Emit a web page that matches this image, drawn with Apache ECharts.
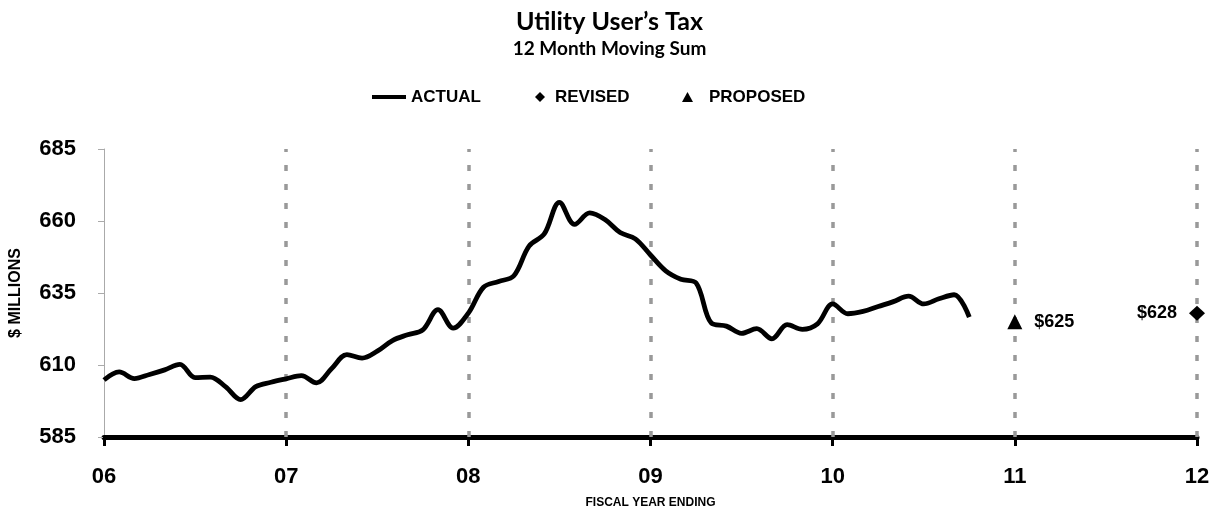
<!DOCTYPE html>
<html lang="en">
<head>
    <meta charset="UTF-8">
    <title>Utility User's Tax</title>
    <script src="https://cdn.jsdelivr.net/npm/echarts@6.0.0/dist/echarts.min.js"></script>
    <style>
        body {
            margin: 0;
            background: #ffffff;
        }
        #chart {
            width: 1219px;
            height: 514px;
        }
    </style>
</head>
<body>
    <div id="chart"></div>

    <script>
        // fiscal years on the x axis (06 .. 12)
        var yearTicks = [6, 7, 8, 9, 10, 11, 12];
        var yearLabels = ['06', '07', '08', '09', '10', '11', '12'];
        var gridYears = [7, 8, 9, 10, 11, 12];

        // 12 month moving sum, one value per month starting at FY06
        var actual = [
            604.8, 607.6, 605.3, 606.7, 608.3, 610.2, 605.6, 605.8, 602.5, 598.0, 602.5, 604.0,
            605.2, 606.3, 603.8, 608.8, 613.6, 612.4, 614.8, 618.5, 620.5, 622.2, 629.2, 622.8,
            628.0, 637.0, 639.0, 641.0, 651.3, 655.5, 666.5, 658.8, 662.8, 660.5, 656.0, 653.8,
            648.2, 642.7, 639.8, 638.5, 624.6, 623.5, 621.0, 622.6, 619.1, 624.0, 622.4, 624.3,
            631.2, 627.8, 628.6, 630.3, 632.0, 633.9, 631.2, 633.0, 634.4, 626.6
        ];
        var startYear = 6;

        var revised = [[12, 628]];
        var proposed = [[11, 625]];

        var actualData = actual.map(function (v, i) { return [startYear + i / 12, v]; });

        var chart = echarts.init(document.getElementById('chart'));

        var legendText = { fontFamily: 'Liberation Sans, Arial', fontWeight: 'bold', fontSize: 17, color: '#000', lineHeight: 20 };

        var option = {
            animation: false,
            title: [
                {
                    text: 'Utility User\u2019s Tax',
                    left: 'center',
                    top: 4,
                    textStyle: { fontFamily: 'Lato', fontWeight: 'bold', fontSize: 25, color: '#000' }
                },
                {
                    text: '12 Month Moving Sum',
                    left: 'center',
                    top: 34,
                    textStyle: { fontFamily: 'Lato', fontWeight: 'bold', fontSize: 19, color: '#000' }
                }
            ],
            legend: [
                {
                    data: ['ACTUAL'],
                    left: 372, top: 87, padding: 0,
                    icon: 'rect', itemWidth: 34, itemHeight: 4,
                    textStyle: legendText
                },
                {
                    data: ['REVISED'],
                    left: 535, top: 87, padding: 0,
                    icon: 'diamond', itemWidth: 10, itemHeight: 10,
                    textStyle: Object.assign({ padding: [0, 0, 0, 5] }, legendText)
                },
                {
                    data: ['PROPOSED'],
                    left: 682, top: 87, padding: 0,
                    icon: 'triangle', itemWidth: 11, itemHeight: 10,
                    textStyle: Object.assign({ padding: [0, 0, 0, 11] }, legendText)
                }
            ],
            grid: {
                left: 104,
                right: 22,
                top: 149,
                bottom: 74
            },
            xAxis: {
                type: 'value',
                min: yearTicks[0],
                max: yearTicks[yearTicks.length - 1],
                interval: 1,
                name: 'FISCAL YEAR ENDING',
                nameLocation: 'middle',
                nameGap: 60,
                nameTextStyle: { fontFamily: 'Liberation Sans, Arial', fontWeight: 'bold', fontSize: 12, color: '#000' },
                axisLine: { lineStyle: { color: '#000', width: 5 } },
                axisTick: { length: 9, lineStyle: { color: '#000', width: 3 } },
                axisLabel: {
                    margin: 29,
                    fontFamily: 'Liberation Sans, Arial',
                    fontWeight: 'bold',
                    fontSize: 22,
                    color: '#000',
                    formatter: function (v) { return yearLabels[yearTicks.indexOf(v)]; }
                },
                splitLine: { show: false }
            },
            yAxis: {
                type: 'value',
                min: 585,
                max: 685,
                interval: 25,
                name: '$ MILLIONS',
                nameLocation: 'middle',
                nameGap: 80,
                nameTextStyle: { fontFamily: 'Liberation Sans, Arial', fontWeight: 'bold', fontSize: 16, color: '#000' },
                axisLine: { show: true, lineStyle: { color: '#aaa', width: 1 } },
                axisTick: { show: true, length: 6, lineStyle: { color: '#aaa' } },
                axisLabel: {
                    margin: 28,
                    fontFamily: 'Liberation Sans, Arial',
                    fontWeight: 'bold',
                    fontSize: 22,
                    color: '#000'
                },
                splitLine: { show: false }
            },
            series: [
                {
                    name: 'grid',
                    type: 'line',
                    data: [],
                    zlevel: 0,
                    z: 1,
                    silent: true,
                    markLine: {
                        silent: true,
                        symbol: 'none',
                        label: { show: false },
                        lineStyle: { color: '#999', width: 3.5, type: [6, 13] },
                        data: gridYears.map(function (y) { return { xAxis: y }; })
                    }
                },
                {
                    name: 'ACTUAL',
                    type: 'line',
                    data: actualData,
                    smooth: 0.35,
                    showSymbol: false,
                    zlevel: 1,
                    z: 3,
                    itemStyle: { color: '#000' },
                    lineStyle: { color: '#000', width: 4.8 }
                },
                {
                    name: 'REVISED',
                    type: 'scatter',
                    data: revised,
                    symbol: 'diamond',
                    symbolSize: [16, 15],
                    zlevel: 1,
                    z: 4,
                    itemStyle: { color: '#000', opacity: 1 },
                    label: {
                        show: true,
                        position: 'left',
                        distance: 12,
                        formatter: function (p) { return '$' + p.value[1]; },
                        fontFamily: 'Liberation Sans, Arial',
                        fontWeight: 'bold',
                        fontSize: 18,
                        color: '#000'
                    }
                },
                {
                    name: 'PROPOSED',
                    type: 'scatter',
                    data: proposed,
                    symbol: 'triangle',
                    symbolSize: [15, 15],
                    zlevel: 1,
                    z: 4,
                    itemStyle: { color: '#000', opacity: 1 },
                    label: {
                        show: true,
                        position: 'right',
                        distance: 12,
                        formatter: function (p) { return '$' + p.value[1]; },
                        fontFamily: 'Liberation Sans, Arial',
                        fontWeight: 'bold',
                        fontSize: 18,
                        color: '#000'
                    }
                }
            ]
        };

        chart.setOption(option);

        window.onresize = function () {
            chart.resize();
        };
    </script>
</body>
</html>
